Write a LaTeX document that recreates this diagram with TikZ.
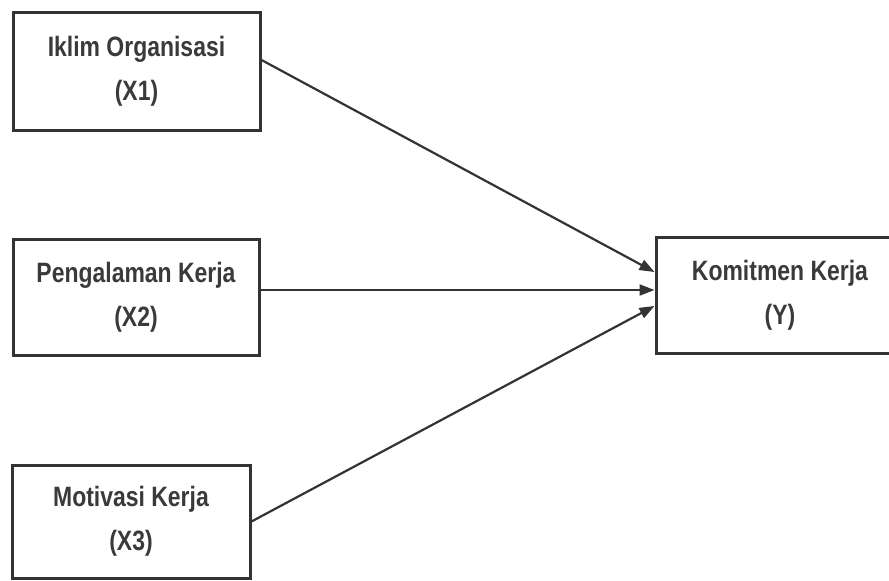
\documentclass[tikz,border=0pt]{standalone}
\usepackage{fontspec}
\setmainfont{Liberation Sans}[FakeStretch=0.82]
\usetikzlibrary{arrows.meta,calc}
\definecolor{ink}{HTML}{333333}
\definecolor{txt}{HTML}{3A3A3A}
\begin{document}
\begin{tikzpicture}[x=1pt,y=1pt,
  varbox/.style={draw=ink,line width=3pt,fill=white,inner sep=0pt,align=center,
    text=txt,font=\bfseries\fontsize{28}{44}\selectfont},
  link/.style={draw=ink,line width=2.2pt,-{Triangle[length=15pt,width=11pt]}}]
\useasboundingbox (0,0) rectangle (889,-581);
\begin{scope}
\clip (0,0) rectangle (889,-581);
\node[varbox,minimum width=247pt,minimum height=118pt] (X1) at (136.5,-71) {Iklim Organisasi\\(X1)};
\node[varbox,minimum width=246pt,minimum height=116pt] (X2) at (136,-297) {Pengalaman Kerja\\(X2)};
\node[varbox,minimum width=238pt,minimum height=113pt] (X3) at (131,-521.5) {Motivasi Kerja\\(X3)};
\node[varbox,minimum width=248pt,minimum height=116pt] (Y) at (780,-295) {Komitmen Kerja\\(Y)};
\draw[link] ($(X1.east)+(0,11)$) -- ($(Y.west)+(0,23)$);
\draw[link] ($(X2.east)+(0,7)$) -- ($(Y.west)+(0,5)$);
\draw[link] (X3.east) -- ($(Y.west)+(0,-11)$);
\end{scope}
\end{tikzpicture}
\end{document}
